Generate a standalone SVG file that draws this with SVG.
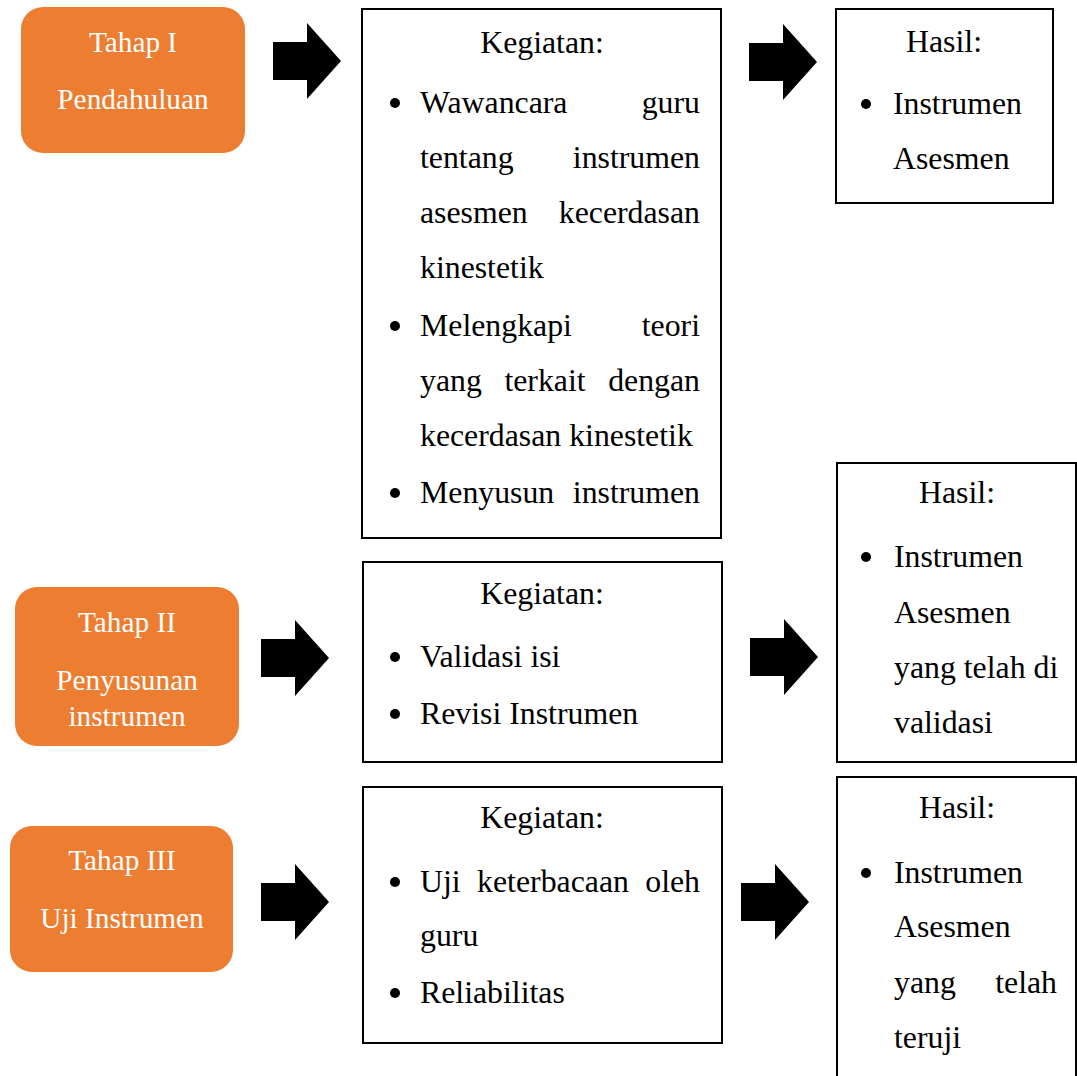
<svg xmlns="http://www.w3.org/2000/svg" width="1077" height="1076" viewBox="0 0 1077 1076">
<style>
.stage{fill:#ED7D31}
.st{font-family:"Liberation Serif","Times New Roman",serif;font-size:29.3px;fill:#FFFFFF;text-anchor:middle}
.box{fill:#FFFFFF;stroke:#000000;stroke-width:2}
.t{font-family:"Liberation Serif","Times New Roman",serif;font-size:31.8px;fill:#000000}
.c{text-anchor:middle}
.e{text-anchor:end}
.m{text-anchor:middle}
.arrow{fill:#000000}
</style>
<defs>
<circle id="dot" r="5" fill="#000000"/>
<path id="arr" d="M0,19 H34 V0 L68,38 L34,76 V57 H0 Z"/>
</defs>
<rect width="1077" height="1076" fill="#FFFFFF"/>

<g id="connectors">
<use href="#arr" class="arrow" x="273" y="23"/>
<use href="#arr" class="arrow" x="749" y="24"/>
<use href="#arr" class="arrow" x="261" y="620"/>
<use href="#arr" class="arrow" x="750" y="619"/>
<use href="#arr" class="arrow" x="261" y="864"/>
<use href="#arr" class="arrow" x="741" y="864"/>
</g>

<g id="tahap1">
<rect class="stage" x="21" y="7" width="224" height="146" rx="22"/>
<text class="st" x="133" y="52">Tahap I</text>
<text class="st" x="133" y="109">Pendahuluan</text>
</g>

<g id="kegiatan1">
<rect class="box" x="362" y="9" width="359" height="529"/>
<text class="t c" x="542" y="53">Kegiatan:</text>
<use href="#dot" x="395" y="103"/>
<text class="t" x="420" y="113">Wawancara</text><text class="t e" x="700" y="113">guru</text>
<text class="t" x="420" y="168">tentang</text><text class="t e" x="700" y="168">instrumen</text>
<text class="t" x="420" y="223">asesmen</text><text class="t e" x="700" y="223">kecerdasan</text>
<text class="t" x="420" y="278">kinestetik</text>
<use href="#dot" x="395" y="326"/>
<text class="t" x="420" y="336">Melengkapi</text><text class="t e" x="700" y="336">teori</text>
<text class="t" x="420" y="391">yang</text><text class="t m" x="545" y="391">terkait</text><text class="t e" x="700" y="391">dengan</text>
<text class="t" x="420" y="446">kecerdasan kinestetik</text>
<use href="#dot" x="395" y="493"/>
<text class="t" x="420" y="503">Menyusun</text><text class="t e" x="700" y="503">instrumen</text>
</g>

<g id="hasil1">
<rect class="box" x="836" y="9" width="217" height="194"/>
<text class="t c" x="944" y="52">Hasil:</text>
<use href="#dot" x="866" y="104"/>
<text class="t" x="893" y="114">Instrumen</text>
<text class="t" x="893" y="169">Asesmen</text>
</g>

<g id="tahap2">
<rect class="stage" x="15" y="587" width="224" height="159" rx="22"/>
<text class="st" x="127" y="632">Tahap II</text>
<text class="st" x="127" y="690">Penyusunan</text>
<text class="st" x="127" y="726">instrumen</text>
</g>

<g id="kegiatan2">
<rect class="box" x="363" y="562" width="359" height="200"/>
<text class="t c" x="542" y="604">Kegiatan:</text>
<use href="#dot" x="395" y="657"/>
<text class="t" x="420" y="667">Validasi isi</text>
<use href="#dot" x="395" y="714"/>
<text class="t" x="420" y="724">Revisi Instrumen</text>
</g>

<g id="hasil2">
<rect class="box" x="837" y="463" width="239" height="299"/>
<text class="t c" x="957" y="503">Hasil:</text>
<use href="#dot" x="866" y="557"/>
<text class="t" x="894" y="567">Instrumen</text>
<text class="t" x="894" y="623">Asesmen</text>
<text class="t" x="894" y="678">yang telah di</text>
<text class="t" x="894" y="733">validasi</text>
</g>

<g id="tahap3">
<rect class="stage" x="10" y="826" width="223" height="146" rx="22"/>
<text class="st" x="122" y="870">Tahap III</text>
<text class="st" x="122" y="928">Uji Instrumen</text>
</g>

<g id="kegiatan3">
<rect class="box" x="363" y="787" width="359" height="256"/>
<text class="t c" x="542" y="828">Kegiatan:</text>
<use href="#dot" x="395" y="882"/>
<text class="t" x="420" y="892">Uji</text><text class="t m" x="553" y="892">keterbacaan</text><text class="t e" x="700" y="892">oleh</text>
<text class="t" x="420" y="946">guru</text>
<use href="#dot" x="395" y="993"/>
<text class="t" x="420" y="1003">Reliabilitas</text>
</g>

<g id="hasil3">
<rect class="box" x="837" y="777" width="239" height="320"/>
<text class="t c" x="957" y="818">Hasil:</text>
<use href="#dot" x="866" y="873"/>
<text class="t" x="894" y="883">Instrumen</text>
<text class="t" x="894" y="937">Asesmen</text>
<text class="t" x="894" y="993">yang</text><text class="t e" x="1057" y="993">telah</text>
<text class="t" x="894" y="1048">teruji</text>
</g>
</svg>
